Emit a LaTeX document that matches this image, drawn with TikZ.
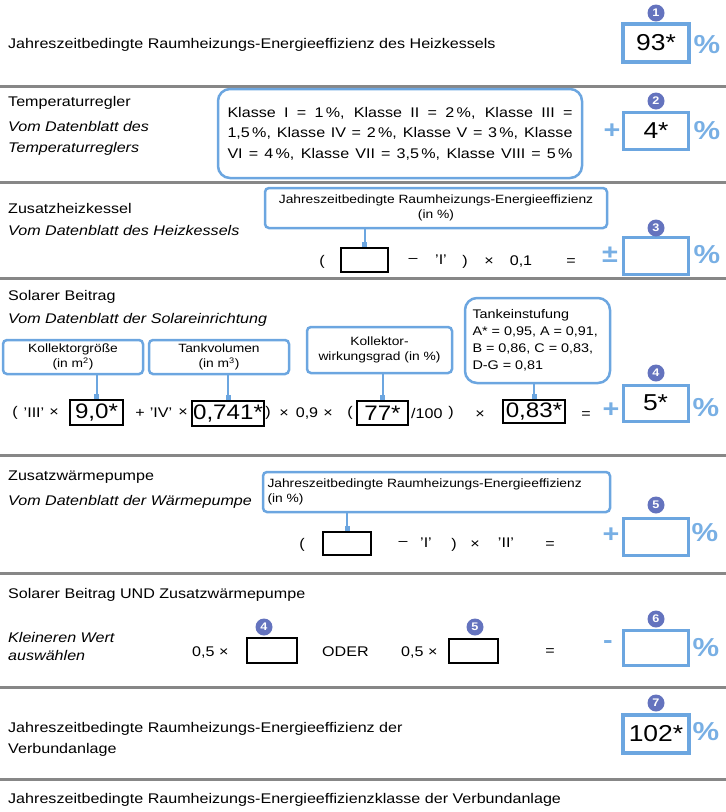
\documentclass[tikz,border=0pt]{standalone}
\usepackage{fontspec}
\setmainfont{Liberation Sans}[FakeStretch=1.15]
\usetikzlibrary{arrows.meta}
\definecolor{bblue}{RGB}{108,166,224}
\definecolor{pblue}{RGB}{120,175,228}
\definecolor{cblue}{RGB}{100,115,190}
\definecolor{sepgray}{RGB}{135,135,135}
\tikzset{
 lbl/.style={anchor=west, inner sep=0pt, font=\fontsize{14}{21}\selectfont, align=left},
 itl/.style={anchor=west, inner sep=0pt, font=\fontsize{14}{21}\selectfont\itshape, align=left},
 op/.style={inner sep=0pt, font=\fontsize{14}{17}\selectfont},
 info/.style={draw=bblue, line width=2.5pt, rounded corners=4pt, inner sep=0pt, align=center, font=\fontsize{12}{15}\selectfont},
 ans/.style={draw=bblue, line width=3pt, inner sep=0pt, minimum width=65pt, minimum height=37pt, font=\fontsize{23}{23}\selectfont},
 blk/.style={draw=black, line width=2.2pt, inner sep=1pt, font=\fontsize{21}{21}\selectfont},
 numc/.style={circle, fill=cblue, text=white, inner sep=0pt, minimum size=17pt, font=\bfseries\fontsize{11}{11}\selectfont},
 pct/.style={text=pblue, inner sep=0pt, font=\bfseries\fontsize{26}{26}\selectfont},
 sgn/.style={text=pblue, inner sep=0pt, font=\bfseries\fontsize{25}{25}\selectfont},
 sepline/.style={draw=sepgray, line width=3pt},
 conn/.style={draw=bblue, line width=2pt, -{Rectangle[length=5pt,width=5pt]}},
}
\begin{document}
\begin{tikzpicture}[x=1pt,y=-1pt]
\useasboundingbox (0,0) rectangle (726,812);
% ---------- Section 1
\node[lbl] (t1) at (8,45) {Jahreszeitbedingte Raumheizungs-Energieeffizienz des Heizkessels};
\node[ans, line width=3.8pt, minimum width=66pt, minimum height=38pt] (b1) at (656,43) {93*};
\node[numc] (c1) at (656,13) {1};
\node[pct] (p1) at (707,45) {\%};
\draw[sepline] (0,86) -- (726,86);
% ---------- Section 2
\node[lbl] (t2) at (8,103) {Temperaturregler};
\node[itl] (i2) at (8,138.5) {Vom Datenblatt des\\Temperaturreglers};
\node[draw=bblue, line width=2.5pt, rounded corners=12pt, minimum width=364pt, minimum height=89pt, inner sep=0pt, align=center, font=\fontsize{14}{20.5}\selectfont] (k2) at (400,133.5)
 {\makebox[345pt][s]{Klasse I = 1\,\%, Klasse II = 2\,\%, Klasse III =}\\
  \makebox[345pt][s]{1,5\,\%, Klasse IV = 2\,\%, Klasse V = 3\,\%, Klasse}\\
  \makebox[345pt][s]{VI = 4\,\%, Klasse VII = 3,5\,\%, Klasse VIII = 5\,\%}};
\node[ans] (b2) at (656,131) {4*};
\node[numc] (c2) at (656,101) {2};
\node[sgn] (s2) at (612,131) {+};
\node[pct] (p2) at (707,131) {\%};
\draw[sepline] (0,182) -- (726,182);
% ---------- Section 3
\node[lbl] (t3) at (8,208) {Zusatzheizkessel};
\node[itl] (i3) at (8,230) {Vom Datenblatt des Heizkessels};
\node[info, minimum width=342pt, minimum height=40pt] (k3) at (436,208) {Jahreszeitbedingte Raumheizungs-Energieeffizienz\\(in \%)};
\node[blk, minimum width=47pt, minimum height=24pt] (f3) at (364.5,260) {};
\draw[conn] (f3.north |- k3.south) -- (f3.north);
\node[op] (o3a) at (322,262) {(};
\node[op] (o3b) at (413,260) {–};
\node[op] (o3c) at (441,260) {'I'};
\node[op] (o3d) at (465,262) {)};
\node[op] (o3e) at (489,262) {×};
\node[op] (o3f) at (521,262) {0,1};
\node[op] (o3g) at (571,262) {=};
\node[sgn] (s3) at (610,255) {±};
\node[ans] (b3) at (656,255.5) {};
\node[numc] (c3) at (656,228) {3};
\node[pct] (p3) at (707,255) {\%};
\draw[sepline] (0,278) -- (726,278);
% ---------- Section 4
\node[lbl] (t4) at (8,297) {Solarer Beitrag};
\node[itl] (i4) at (8,320) {Vom Datenblatt der Solareinrichtung};
\node[info, minimum width=140pt, minimum height=34pt] (ka) at (73,357) {Kollektorgröße\\(in m\textsuperscript{2})};
\node[info, minimum width=140pt, minimum height=34pt] (kb) at (219,357) {Tankvolumen\\(in m\textsuperscript{3})};
\node[info, minimum width=145pt, minimum height=46pt] (kc) at (379.5,350) {Kollektor-\\wirkungsgrad (in \%)};
\node[info, rounded corners=12pt, minimum width=145pt, minimum height=85pt, align=left, font=\fontsize{12.5}{17}\selectfont] (kd) at (537.5,340.5)
 {\parbox{130pt}{Tankeinstufung\\A* = 0,95, A = 0,91,\\B = 0,86, C = 0,83,\\D-G = 0,81}};
\node[op] (o4a) at (15,413) {(};
\node[op] (o4b) at (34,413) {'III'};
\node[op] (o4c) at (54,413) {×};
\node[blk, minimum width=53pt, minimum height=25pt] (f4a) at (96.5,412.5) {9,0*};
\node[op] (o4d) at (140,413) {+};
\node[op] (o4e) at (161,413) {'IV'};
\node[op] (o4f) at (183,413) {×};
\node[blk, minimum width=70pt, minimum height=25pt] (f4b) at (228,413.5) {0,741*};
\node[op] (o4g) at (268,413) {)};
\node[op] (o4h) at (284,414) {×};
\node[op] (o4i) at (307,413) {0,9};
\node[op] (o4j) at (328,414) {×};
\node[op] (o4k) at (350,413) {(};
\node[blk, minimum width=51pt, minimum height=24pt] (f4c) at (382.5,413) {77*};
\node[op, anchor=west] (o4l) at (411,413) {/100};
\node[op] (o4m) at (451,413) {)};
\node[op] (o4n) at (480,415) {×};
\node[blk, minimum width=62pt, minimum height=23pt] (f4d) at (534,411.5) {0,83*};
\node[op] (o4o) at (586,415) {=};
\node[sgn] (s4) at (611,410) {+};
\node[ans, minimum height=36pt] (b4) at (655.5,403) {5*};
\node[numc] (c4) at (656,373) {4};
\node[pct] (p4) at (706,408) {\%};
\draw[conn] (f4a.north |- ka.south) -- (f4a.north);
\draw[conn] (f4b.north |- kb.south) -- (f4b.north);
\draw[conn] (f4c.north |- kc.south) -- (f4c.north);
\draw[conn] (f4d.north |- kd.south) -- (f4d.north);
\draw[sepline] (0,455) -- (726,455);
% ---------- Section 5
\node[lbl] (t5) at (8,477) {Zusatzwärmepumpe};
\node[itl] (i5) at (8,502) {Vom Datenblatt der Wärmepumpe};
\node[info, minimum width=347pt, minimum height=40pt, align=left] (k5) at (436.5,492) {\parbox{338pt}{Jahreszeitbedingte Raumheizungs-Energieeffizienz\\(in \%)}};
\node[blk, minimum width=48pt, minimum height=23pt] (f5) at (347,543.5) {};
\draw[conn] (f5.north |- k5.south) -- (f5.north);
\node[op] (o5a) at (302,545) {(};
\node[op] (o5b) at (403,543) {–};
\node[op] (o5c) at (426,543) {'I'};
\node[op] (o5d) at (454,545) {)};
\node[op] (o5e) at (475,545) {×};
\node[op] (o5f) at (506,543) {'II'};
\node[op] (o5g) at (550,545) {=};
\node[sgn] (s5) at (611,535) {+};
\node[ans] (b5) at (655.5,536.5) {};
\node[numc] (c5) at (656,505) {5};
\node[pct] (p5) at (705,533) {\%};
\draw[sepline] (0,573) -- (726,573);
% ---------- Section 6
\node[lbl] (t6) at (8,595) {Solarer Beitrag UND Zusatzwärmepumpe};
\node[itl, font=\fontsize{14}{18}\selectfont\itshape] (i6) at (8,646) {Kleineren Wert\\auswählen};
\node[op, anchor=west] (o6a) at (192,652) {0,5 ×};
\node[blk, minimum width=50pt, minimum height=25pt] (f6a) at (272,650.5) {};
\node[numc] (c6a) at (264,627) {4};
\node[op, anchor=west] (o6b) at (322,652) {ODER};
\node[op, anchor=west] (o6c) at (401,652) {0,5 ×};
\node[blk, minimum width=49pt, minimum height=24pt] (f6b) at (473.5,651) {};
\node[numc] (c6b) at (475,627) {5};
\node[op] (o6d) at (550,652) {=};
\node[sgn] (s6) at (608,645) {-};
\node[ans, minimum height=35pt] (b6) at (655.5,647.5) {};
\node[numc] (c6) at (656,619) {6};
\node[pct] (p6) at (706,648) {\%};
\draw[sepline] (0,687) -- (726,687);
% ---------- Section 7
\node[lbl] (t7) at (8,739.5) {Jahreszeitbedingte Raumheizungs-Energieeffizienz der\\Verbundanlage};
\node[ans, line width=3.8pt, minimum width=66pt, minimum height=38pt] (b7) at (656,734) {102*};
\node[numc] (c7) at (656,703) {7};
\node[pct] (p7) at (706,732) {\%};
\draw[sepline] (0,779) -- (726,779);
% ---------- Section 8
\node[lbl] (t8) at (8,800) {Jahreszeitbedingte Raumheizungs-Energieeffizienzklasse der Verbundanlage};
\end{tikzpicture}
\end{document}
